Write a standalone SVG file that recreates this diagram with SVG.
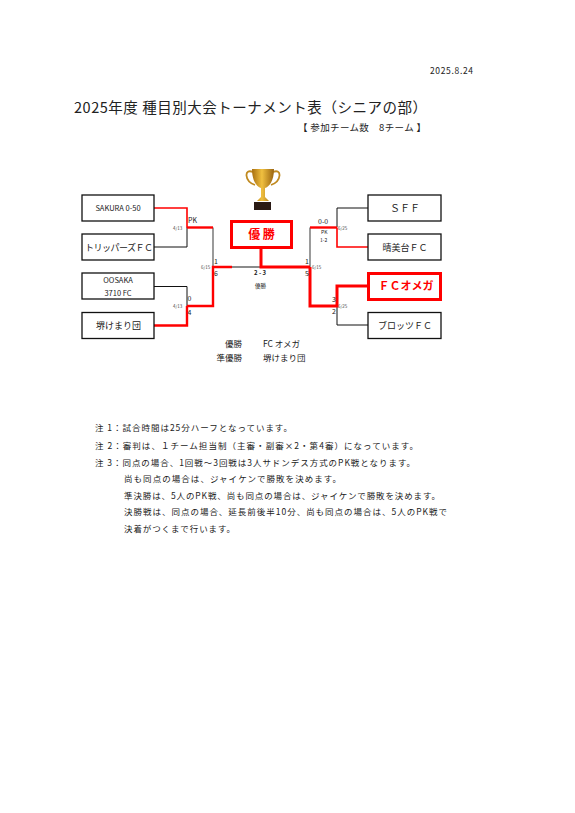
<svg xmlns="http://www.w3.org/2000/svg" width="575" height="813" viewBox="0 0 575 813">
<defs>
<linearGradient id="gold" x1="0" y1="0" x2="1" y2="0"><stop offset="0" stop-color="#a86f10"/><stop offset="0.45" stop-color="#f0c040"/><stop offset="1" stop-color="#9a6410"/></linearGradient>
</defs>
<style>
text{font-family:"Noto Sans CJK JP","Liberation Sans",sans-serif;fill:#222}
.box{fill:#fff;stroke:#111;stroke-width:1.3}
.win{fill:#fff;stroke:#f00;stroke-width:3}
.team{font-size:9px;text-anchor:middle}
.wt{font-size:11px;font-weight:700;fill:#f00;text-anchor:middle}
.k{fill:none;stroke:#111;stroke-width:1}
.g{fill:none;stroke:#666;stroke-width:1.3}
.r{fill:none;stroke:#f00;stroke-width:1.6}
.r2{fill:none;stroke:#f00;stroke-width:2.4}
.r3{fill:none;stroke:#f00;stroke-width:3}
.d{font-size:4.5px;fill:#444}
.s{font-size:7px}
.n{font-size:8.5px}
.m{font-size:8.5px}
</style>
<rect width="575" height="813" fill="#fff"/>
<text x="430" y="74" font-size="8.5" textLength="43">2025.8.24</text>
<text x="74" y="113" font-size="14.5" textLength="353">2025年度 種目別大会トーナメント表（シニアの部）</text>
<text x="298" y="131" font-size="9.5" textLength="128">【 参加チーム数　8チーム 】</text>
<g id="connectors">
<path class="k" d="M154 247H187V227"/>
<path class="k" d="M154 286.500H187V306"/>
<path class="g" d="M213 227.500V267M232 267H261M310 267V227.500"/>
<path class="k" d="M368 208H337V227"/>
<path class="k" d="M337 306V325H368"/>
<path class="r" d="M154 208H187V227.500"/>
<path class="r2" d="M187 227.500H213"/>
<path class="r2" d="M154 325.500H187V306"/>
<path class="r2" d="M187 306H213V267H232"/>
<path class="r3" d="M261 248V267H310"/>
<path class="r2" d="M310 227.500H337"/>
<path class="r" d="M337 227.500V247H368"/>
<path class="r3" d="M310 267V306H337V286H368"/>
</g>
<g id="node-trophy">
<path d="M253 172c-9-4-9 9 2 13M273 172c9-4 9 9-2 13" fill="none" stroke="#c08a20" stroke-width="1.800"/>
<path d="M252 169H274C274 181 269 187 265 188V197L269 201H257L261 197V188C257 187 252 181 252 169Z" fill="url(#gold)"/>
<rect x="254" y="202" width="17" height="8" fill="#2a1a14"/>
</g>
<g id="node-sakura"><rect class="box" x="82" y="195" width="72" height="26"/><text class="team" x="118" y="211" style="font-size:7.500px">SAKURA 0-50</text></g>
<g id="node-trippers"><rect class="box" x="82" y="234" width="72" height="26"/><text class="team" x="119" y="250.500" textLength="68">トリッパーズＦＣ</text></g>
<g id="node-oosaka"><rect class="box" x="82" y="273" width="72" height="26"/><text class="team" x="118" y="283" style="font-size:7.500px">OOSAKA</text><text class="team" x="118" y="296" style="font-size:7.500px">3710 FC</text></g>
<g id="node-sakai"><rect class="box" x="82" y="312.500" width="72" height="26"/><text class="team" x="118.500" y="328.500">堺けまり団</text></g>
<g id="node-champion"><rect class="win" x="231.500" y="221.500" width="60" height="26"/><text class="wt" x="261.500" y="238.500" style="font-size:12px">優 勝</text></g>
<g id="node-sff"><rect class="box" x="368" y="195" width="73" height="26"/><text class="team" x="405" y="211.500" style="font-size:10px">ＳＦＦ</text></g>
<g id="node-seibidai"><rect class="box" x="368" y="234" width="73" height="26"/><text class="team" x="405" y="250.500">晴美台ＦＣ</text></g>
<g id="node-omega"><rect class="win" x="368.500" y="273.500" width="72" height="26"/><text class="wt" x="406" y="290">ＦＣオメガ</text></g>
<g id="node-plots"><rect class="box" x="368" y="312.500" width="73" height="26"/><text class="team" x="405" y="328.500">ブロッツＦＣ</text></g>
<g id="labels">
<text class="d" x="173" y="229.500">4/13</text>
<text class="d" x="173" y="307.500">4/13</text>
<text class="d" x="201" y="268.500">6/15</text>
<text class="d" x="312" y="268.500">6/15</text>
<text class="d" x="338" y="229.500">6/25</text>
<text class="d" x="338" y="307.500">6/25</text>
<text class="s" x="188" y="223">PK</text>
<text class="s" x="214" y="264">1</text>
<text class="s" x="214" y="276">6</text>
<text class="s" x="187.500" y="301">0</text>
<text class="s" x="187.500" y="315">4</text>
<text class="s" x="305" y="264">1</text>
<text class="s" x="305" y="276">5</text>
<text class="s" x="332" y="302">3</text>
<text class="s" x="332" y="314">2</text>
<text class="s" x="318" y="224">0-0</text>
<text font-size="5" x="321" y="234">PK</text>
<text font-size="5" x="320" y="241.500">1-2</text>
<text font-size="6" font-weight="700" x="254" y="275">2 - 3</text>
<text font-size="5.500" x="255" y="288">優勝</text>
<text class="m" x="225" y="347">優勝</text>
<text class="m" x="216.500" y="361">準優勝</text>
<text class="m" x="263" y="347" textLength="37">FC オメガ</text>
<text class="m" x="263" y="361">堺けまり団</text>
</g>
<g id="notes">
<text class="n" x="95" y="431" textLength="197">注 1：試合時間は25分ハーフとなっています。</text>
<text class="n" x="95" y="449" textLength="323">注 2：審判は、１チーム担当制（主審・副審×2・第4審）になっています。</text>
<text class="n" x="95" y="466" textLength="320">注 3：同点の場合、1回戦～3回戦は3人サドンデス方式のPK戦となります。</text>
<text class="n" x="124" y="481.500" textLength="217">尚も同点の場合は、ジャイケンで勝敗を決めます。</text>
<text class="n" x="124" y="499" textLength="316">準決勝は、5人のPK戦、尚も同点の場合は、ジャイケンで勝敗を決めます。</text>
<text class="n" x="124" y="515" textLength="323">決勝戦は、同点の場合、延長前後半10分、尚も同点の場合は、5人のPK戦で</text>
<text class="n" x="124" y="532" textLength="111">決着がつくまで行います。</text>
</g>
</svg>
